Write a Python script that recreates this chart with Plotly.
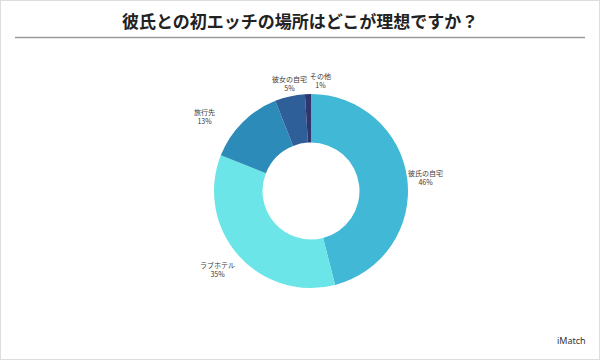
import math
import plotly.graph_objects as go

labels = ["彼氏の自宅", "ラブホテル", "旅行先", "彼女の自宅", "その他"]
values = [46, 35, 13, 5, 1]
colors = ["#41b8d5", "#6ce5e8", "#2d8bba", "#2f5f98", "#31356e"]
title_text = "彼氏との初エッチの場所はどこが理想ですか？"
source_text = "iMatch"

W, H = 600, 360
cx, cy, r = 311, 191, 97
label_radius = 115
# small per-label nudges (pixels) to mimic the reference's label placement
nudges = [(0, -1), (-7, -2), (-25, -7), (4, -5), (13, -4)]

fig = go.Figure(go.Pie(
    labels=labels,
    values=values,
    marker=dict(colors=colors, line=dict(width=0)),
    hole=0.5,
    sort=False,
    direction="clockwise",
    rotation=0,
    textinfo="none",
    showlegend=False,
    domain=dict(x=[(cx - r) / W, (cx + r) / W], y=[(H - cy - r) / H, (H - cy + r) / H]),
    hoverinfo="label+percent",
))

annotations = []
total = sum(values)
cum = 0
for lab, v, (nx, ny) in zip(labels, values, nudges):
    mid = (cum + v / 2) / total * 2 * math.pi
    cum += v
    px = cx + label_radius * math.sin(mid)
    py = cy - label_radius * math.cos(mid)
    pct = round(v / total * 100)
    annotations.append(dict(
        text=f"{lab}<br>{pct}%", x=px / W, y=1 - py / H, xref="paper", yref="paper",
        showarrow=False, xanchor="center", yanchor="middle", align="center",
        xshift=nx, yshift=ny,
        font=dict(size=7, color="#3a3a3a", family="Noto Sans CJK JP"),
    ))

annotations += [
    dict(text="<b>" + title_text + "</b>", x=0.5, y=1 - 20 / H, xref="paper", yref="paper",
         showarrow=False, font=dict(size=17, color="#222222", family="Noto Sans CJK JP"),
         xanchor="center", yanchor="middle"),
    dict(text=source_text, x=1 - 12 / W, y=1 - 340 / H, xref="paper", yref="paper",
         showarrow=False, font=dict(size=9, color="#333333", family="Noto Sans"),
         xanchor="right", yanchor="middle"),
]

fig.update_layout(
    width=W, height=H,
    margin=dict(l=0, r=0, t=0, b=0),
    paper_bgcolor="white",
    plot_bgcolor="white",
    font=dict(family="Noto Sans CJK JP"),
    annotations=annotations,
    shapes=[
        dict(type="line", xref="paper", yref="paper", x0=15 / W, x1=585 / W,
             y0=1 - 37.5 / H, y1=1 - 37.5 / H, line=dict(color="#9a9a9a", width=1.5)),
        dict(type="rect", xref="paper", yref="paper", x0=0, x1=1, y0=0, y1=1,
             line=dict(color="#dddddd", width=2)),
    ],
)

fig.write_html("out.html")
